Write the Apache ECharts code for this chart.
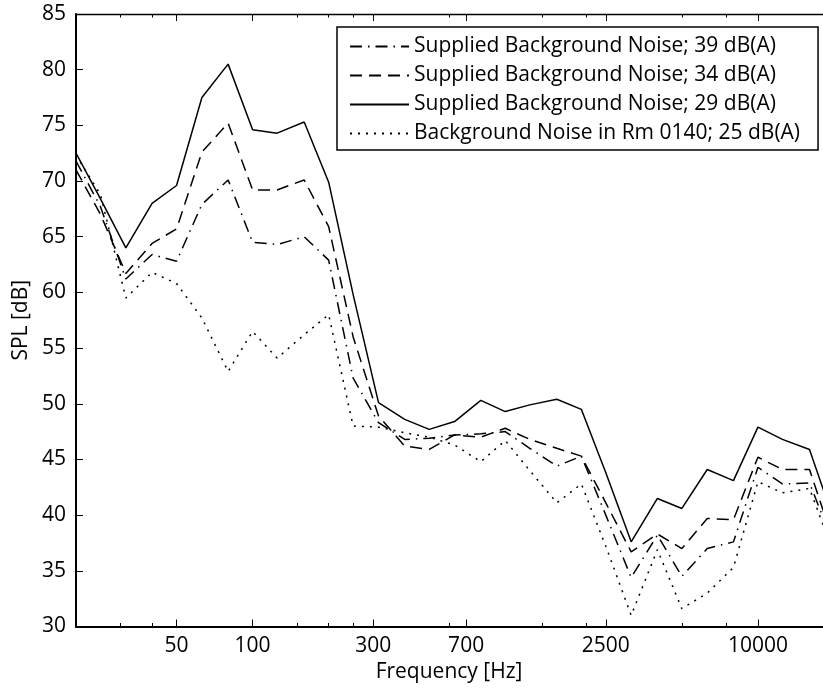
<!DOCTYPE html>
<html>
<head>
<meta charset="utf-8">
<script src="https://cdn.jsdelivr.net/npm/echarts@6/dist/echarts.min.js"></script>
<style>
  html, body { margin: 0; padding: 0; background: #fff; }
  #chart { width: 823px; height: 689px; }
</style>
</head>
<body>
<div id="chart"></div>
<script>
// One-third-octave band centre frequencies [Hz]
const bands = [20, 25, 31.5, 40, 50, 63, 80, 100, 125, 160, 200, 250, 315, 400, 500,
  630, 800, 1000, 1250, 1600, 2000, 2500, 3150, 4000, 5000, 6300, 8000, 10000,
  12500, 16000, 20000];

// Band levels, SPL [dB]
const noise39 = [71.8, 67.7, 61.2, 63.4, 62.8, 67.9, 70.1, 64.5, 64.3, 65.0, 62.9, 52.3,
  48.3, 46.8, 46.9, 47.2, 47.3, 47.5, 46.0, 44.4, 45.3, 40.0, 34.4, 38.2, 34.5, 37.0,
  37.6, 44.3, 42.8, 42.9, 37.3];
const noise34 = [71.0, 67.0, 61.7, 64.4, 65.7, 72.6, 75.2, 69.2, 69.2, 70.1, 65.9, 56.0,
  48.9, 46.2, 45.9, 47.2, 47.0, 47.8, 46.8, 46.0, 45.3, 41.1, 36.7, 38.3, 37.0, 39.7,
  39.6, 45.2, 44.1, 44.1, 37.5];
const noise29 = [72.5, 68.4, 64.0, 68.0, 69.6, 77.5, 80.5, 74.6, 74.3, 75.3, 69.9, 59.8,
  50.1, 48.6, 47.7, 48.4, 50.3, 49.3, 49.9, 50.4, 49.5, 43.8, 37.6, 41.5, 40.6, 44.1,
  43.1, 47.9, 46.8, 45.9, 39.5];
const roomNoise = [72.3, 68.8, 59.5, 61.8, 60.8, 57.7, 52.9, 56.5, 54.1, 56.2, 58.0, 48.0,
  47.9, 47.4, 47.0, 46.3, 44.8, 46.7, 44.0, 41.1, 42.8, 37.2, 31.0, 36.9, 31.6, 33.0,
  35.3, 43.0, 42.0, 42.4, 36.5];

const seriesNames = [
  'Supplied Background Noise; 39 dB(A)',
  'Supplied Background Noise; 34 dB(A)',
  'Supplied Background Noise; 29 dB(A)',
  'Background Noise in Rm 0140; 25 dB(A)'
];

// Axis tick values
const majorTicks = [50, 100, 300, 700, 2500, 10000];
const minorTicks = [30, 40, 150, 200, 250, 600, 1400, 2100, 5000, 7500];

const FONT = 'Open Sans';
const FS = 21;

const pairs = (ys) => bands.map((f, i) => [f, ys[i]]);

function freqAxis(position, ticks, len, showLabel, showLine, lineWidth) {
  return {
    type: 'log', logBase: 10, min: 20, max: 20000, position: position,
    axisLine: { show: showLine, onZero: false, lineStyle: { color: '#000', width: lineWidth } },
    axisTick: { show: true, inside: true, length: len, customValues: ticks,
      lineStyle: { color: '#000', width: 1 } },
    axisLabel: { show: showLabel, customValues: ticks, color: '#000', fontFamily: FONT,
      fontSize: FS, margin: 9, formatter: (v) => String(v) },
    splitLine: { show: false }, minorTick: { show: false }
  };
}

const xAxes = [
  freqAxis('bottom', majorTicks, 7, true, true, 2),
  freqAxis('bottom', minorTicks, 3.5, false, false, 1),
  freqAxis('top', majorTicks, 7, false, true, 1.3),
  freqAxis('top', minorTicks, 3.5, false, false, 1)
];
xAxes[0].name = 'Frequency [Hz]';
xAxes[0].nameLocation = 'middle';
xAxes[0].nameGap = 26;
xAxes[0].nameTextStyle = { color: '#000', fontFamily: FONT, fontSize: FS,
  padding: [0, 12, 0, 0] };

const lineTypes = [[12, 6, 1.5, 6], [12, 7], 'solid', [2, 6]];
const dataSets = [noise39, noise34, noise29, roomNoise];

const chart = echarts.init(document.getElementById('chart'), null, { renderer: 'canvas' });
chart.setOption({
  animation: false,
  backgroundColor: '#fff',
  // plot box runs past the right edge of the page (20 kHz end is cut off)
  grid: { left: 76, top: 14, right: -11, bottom: 62.5, containLabel: false,
    outerBoundsMode: 'none' },
  xAxis: xAxes,
  yAxis: {
    type: 'value', min: 30, max: 85, interval: 5,
    name: 'SPL [dB]', nameLocation: 'middle', nameGap: 36, nameRotate: 90,
    nameTextStyle: { color: '#000', fontFamily: FONT, fontSize: FS },
    axisLine: { show: true, lineStyle: { color: '#000', width: 2 } },
    axisTick: { show: true, inside: true, length: 7, lineStyle: { color: '#000', width: 1 } },
    axisLabel: { color: '#000', fontFamily: FONT, fontSize: FS, margin: 10 },
    splitLine: { show: false }
  },
  legend: {
    orient: 'vertical', left: 337, top: 27,
    padding: [9, 18, 6, 12], itemGap: 8, itemWidth: 59, itemHeight: 14,
    borderColor: '#000', borderWidth: 1.5, backgroundColor: '#fff',
    itemStyle: { opacity: 0 },
    textStyle: { color: '#000', fontFamily: FONT, fontSize: FS },
    data: seriesNames
  },
  series: dataSets.map((ys, i) => ({
    name: seriesNames[i], type: 'line', xAxisIndex: 0, data: pairs(ys),
    showSymbol: false, symbol: 'none',
    lineStyle: { color: '#000', width: 1.5, type: lineTypes[i] },
    itemStyle: { color: '#000' },
    z: 2
  }))
});
</script>
</body>
</html>
